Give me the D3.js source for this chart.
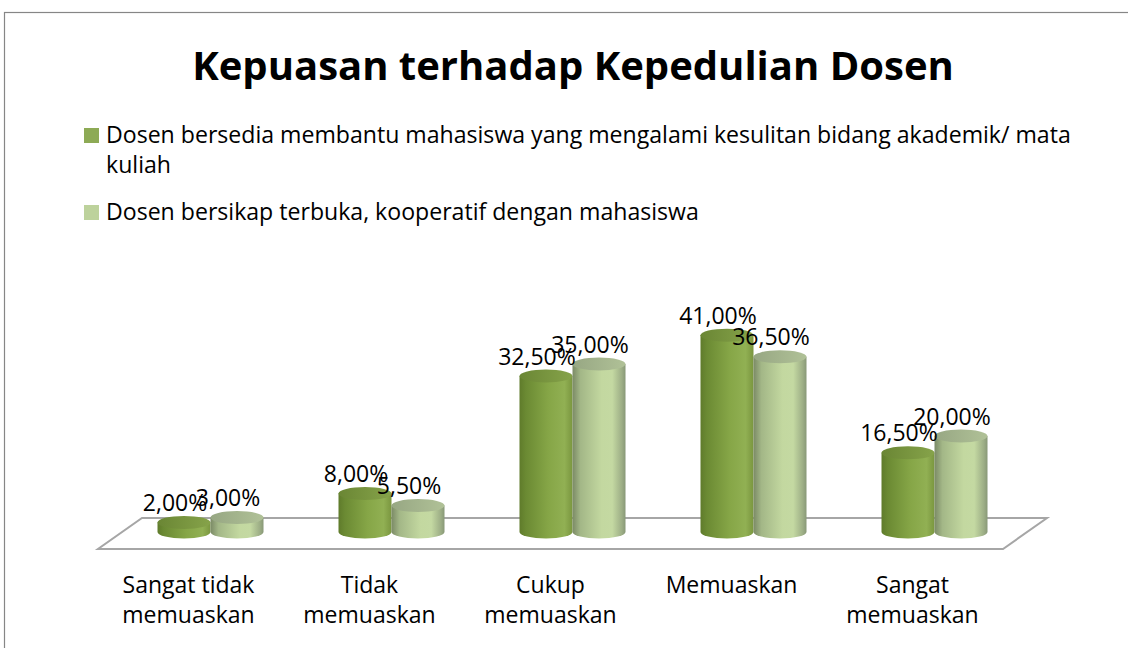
<!DOCTYPE html>
<html>
<head>
<meta charset="utf-8">
<script src="https://cdnjs.cloudflare.com/ajax/libs/d3/7.8.5/d3.min.js"></script>
<style>
  html, body { margin: 0; padding: 0; background: #fff; }
  svg { display: block; font-family: "Open Sans", "Noto Sans", sans-serif; }
</style>
</head>
<body>
<svg id="chart" width="1128" height="648"></svg>
<script>
// ---- data ----
const title = "Kepuasan terhadap Kepedulian Dosen";
const categories = ["Sangat tidak memuaskan", "Tidak memuaskan", "Cukup memuaskan", "Memuaskan", "Sangat memuaskan"];
const categoryLines = [["Sangat tidak", "memuaskan"], ["Tidak", "memuaskan"], ["Cukup", "memuaskan"], ["Memuaskan"], ["Sangat", "memuaskan"]];
const seriesNames = [
  "Dosen bersedia membantu mahasiswa yang mengalami kesulitan bidang akademik/ mata kuliah",
  "Dosen bersikap terbuka, kooperatif dengan mahasiswa"
];
const legendLines = [
  ["Dosen bersedia membantu mahasiswa yang mengalami kesulitan bidang akademik/ mata", "kuliah"],
  ["Dosen bersikap terbuka, kooperatif dengan mahasiswa"]
];
const seriesA = [0.02, 0.08, 0.325, 0.41, 0.165];
const seriesB = [0.03, 0.055, 0.35, 0.365, 0.20];

// ---- layout ----
const svg = d3.select("#chart");
const W = 1128, H = 648;

const locale = d3.formatLocale({decimal: ",", thousands: ".", grouping: [3], currency: ["", ""]});
const fmt = locale.format(".2%");

// chart border
svg.append("rect").attr("x", 4.5).attr("y", 12.5).attr("width", W + 20).attr("height", H + 20)
  .attr("fill", "#fff").attr("stroke", "#868686").attr("stroke-width", 1.2);

// title
svg.append("text").attr("x", 573).attr("y", 80).attr("text-anchor", "middle")
  .attr("font-weight", "bold").attr("font-size", 40).attr("fill", "#000").text(title);

// legend
const legendColors = ["#8DAA55", "#BDD29C"];
const legendY = [143, 220];
legendLines.forEach((lines, i) => {
  const g = svg.append("g");
  g.append("rect").attr("x", 84).attr("y", legendY[i] - 15).attr("width", 15).attr("height", 15)
    .attr("fill", legendColors[i]);
  lines.forEach((ln, j) => {
    g.append("text").attr("x", 106).attr("y", legendY[i] + j * 30).attr("font-size", 23.1)
      .attr("fill", "#000").text(ln);
  });
});

// floor geometry
const frontY = 549, backY = 518, depthDX = 44;
const x0 = d3.scaleBand().domain(categories).range([98, 1003]).padding(0);
const x1 = d3.scaleBand().domain(["A", "B"]).range([-53, 53]).padding(0);
const baseY = 532;
const y = d3.scaleLinear().domain([0, 0.45]).range([baseY, baseY - 45 * 4.8]);
const ry = 6.5;

const floorPts = [[98, frontY], [1003, frontY], [1003 + depthDX, backY], [98 + depthDX, backY]];
svg.append("path").attr("d", d3.line()(floorPts) + "Z")
  .attr("fill", "#fff").attr("stroke", "#a6a6a6").attr("stroke-width", 2);

// gradients
const defs = svg.append("defs");
function grad(id, stops, horiz = true) {
  const g = defs.append("linearGradient").attr("id", id)
    .attr("x1", "0").attr("y1", "0").attr("x2", horiz ? "1" : "0").attr("y2", horiz ? "0" : "1");
  stops.forEach(s => g.append("stop").attr("offset", s[0]).attr("stop-color", s[1]));
}
grad("sideA", [[0, "#5f7b2b"], [0.12, "#6b8a33"], [0.55, "#86a647"], [0.85, "#91b053"], [1, "#7a963f"]]);
grad("topA", [[0, "#6a8634"], [1, "#86a34a"]]);
grad("sideB", [[0, "#7b8a66"], [0.15, "#a3b787"], [0.55, "#c3d8a0"], [0.75, "#c4d9a2"], [0.93, "#9dae86"], [1, "#889877"]]);
grad("topB", [[0, "#97a783"], [1, "#b0c197"]]);

const seriesData = [
  {key: "A", values: seriesA, side: "url(#sideA)", top: "url(#topA)"},
  {key: "B", values: seriesB, side: "url(#sideB)", top: "url(#topB)"}
];

const rx = x1.bandwidth() / 2;
const labelsToDraw = [];
categories.forEach((c, ci) => {
  const cx0 = x0(c) + x0.bandwidth() / 2 + depthDX / 2;
  seriesData.forEach(s => {
    const v = s.values[ci];
    const cx = cx0 + x1(s.key) + rx;
    const ty = y(v);
    const g = svg.append("g");
    g.append("path")
      .attr("d", `M${cx - rx},${ty} L${cx - rx},${baseY} A${rx},${ry} 0 0 0 ${cx + rx},${baseY} L${cx + rx},${ty} Z`)
      .attr("fill", s.side);
    g.append("ellipse").attr("cx", cx).attr("cy", ty).attr("rx", rx).attr("ry", ry)
      .attr("fill", s.top);
    labelsToDraw.push({x: cx - 9, y: ty - ry - 5, t: fmt(v)});
  });
});

// data labels
svg.append("g").selectAll("text").data(labelsToDraw).join("text")
  .attr("x", d => d.x).attr("y", d => d.y).attr("text-anchor", "middle")
  .attr("font-size", 23).attr("fill", "#000").text(d => d.t);

// category labels
categories.forEach((c, ci) => {
  const cx = x0(c) + x0.bandwidth() / 2;
  categoryLines[ci].forEach((ln, j) => {
    svg.append("text").attr("x", cx).attr("y", 593 + j * 30).attr("text-anchor", "middle")
      .attr("font-size", 23).attr("fill", "#000").text(ln);
  });
});
</script>
</body>
</html>
